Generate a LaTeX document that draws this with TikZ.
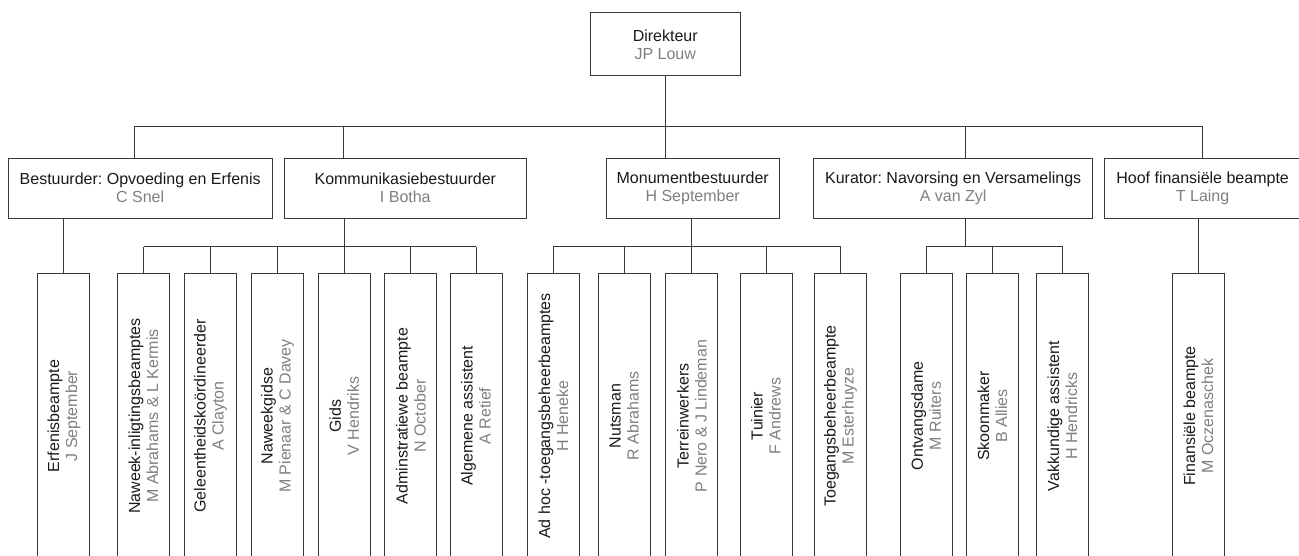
\documentclass[tikz,border=0pt]{standalone}
\usepackage{fontspec}
\setmainfont{Liberation Sans}
\frenchspacing
\definecolor{ln}{HTML}{383838}
\definecolor{nm}{HTML}{7F7F7F}
\definecolor{tt}{HTML}{1A1A1A}
\newcommand{\twoline}[2]{\textcolor{tt}{#1}\\\textcolor{nm}{#2}}
\begin{document}
\begin{tikzpicture}[x=1pt,y=-1pt,
  every node/.style={font=\fontsize{16}{18}\selectfont},
  box/.style={draw=ln, line width=1pt, fill=white, align=center, inner sep=0pt},
  topbox/.style={box, minimum height=60pt},
  lowbox/.style={box, rotate=90, minimum width=286pt, minimum height=52pt},
  conn/.style={draw=ln, line width=1pt},
]
\useasboundingbox (0,0) rectangle (1299,555);

% level 1
\node[box, minimum width=150.3pt, minimum height=63.3pt] (dir) at (665.2,44.3) {\twoline{Direkteur}{JP Louw}};

% level 2
\node[topbox, minimum width=263.7pt] (bes) at (140.2,188.2) {\twoline{Bestuurder: Opvoeding en Erfenis}{C Snel}};
\node[topbox, minimum width=242.5pt] (kom) at (405.3,188.2) {\twoline{Kommunikasiebestuurder}{I Botha}};
\node[topbox, minimum width=173.3pt] (mon) at (692.7,188.2) {\twoline{Monumentbestuurder}{H September}};
\node[topbox, minimum width=279pt] (kur) at (953.2,188.2) {\twoline{Kurator: Navorsing en Versamelings}{A van Zyl}};
\node[topbox, minimum width=196pt] (hoof) at (1202.6,188.2) {\twoline{Hoof finansi\"ele beampte}{T Laing}};

% level 3
\node[lowbox] (erf) at (63.9,416) {\twoline{Erfenisbeampte}{J September}};
\node[lowbox] (nwi) at (143.5,416) {\twoline{Naweek-inligtingsbeamptes}{M Abrahams \& L Kermis}};
\node[lowbox] (gel) at (210.4,416) {\twoline{Geleentheidsko\"ordineerder}{A Clayton}};
\node[lowbox] (nwg) at (277.4,416) {\twoline{Naweekgidse}{M Pienaar \& C Davey}};
\node[lowbox] (gid) at (344.2,416) {\twoline{Gids}{V Hendriks}};
\node[lowbox] (adm) at (410.8,416) {\twoline{Adminstratiewe beampte}{N October}};
\node[lowbox] (alg) at (476,416) {\twoline{Algemene assistent}{A Retief}};

\node[lowbox] (adh) at (553.3,416) {\twoline{Ad hoc -toegangsbeheerbeamptes}{H Heneke}};
\node[lowbox] (nut) at (624.3,416) {\twoline{Nutsman}{R Abrahams}};
\node[lowbox] (ter) at (691.8,416) {\twoline{Terreinwerkers}{P Nero \& J Lindeman}};
\node[lowbox] (tui) at (766,416) {\twoline{Tuinier}{F Andrews}};
\node[lowbox] (toe) at (840.5,416) {\twoline{Toegangsbeheerbeampte}{M Esterhuyze}};

\node[lowbox] (ont) at (926.2,416) {\twoline{Ontvangsdame}{M Ruiters}};
\node[lowbox] (sko) at (992.5,416) {\twoline{Skoonmaker}{B Allies}};
\node[lowbox] (vak) at (1062.5,416) {\twoline{Vakkundige assistent}{H Hendricks}};

\node[lowbox] (fin) at (1198.5,416) {\twoline{Finansi\"ele beampte}{M Oczenaschek}};

% connectors level 1 -> 2
\coordinate (busA) at (134.7,126);
\coordinate (busB) at (343,126);
\coordinate (busD) at (965.5,126);
\coordinate (busE) at (1202.2,126);
\draw[conn] (dir.south) -- (dir.south |- mon.north);
\draw[conn] (busA) -- (busE);
\draw[conn] (busA) -- (busA |- bes.north);
\draw[conn] (busB) -- (busB |- kom.north);
\draw[conn] (busD) -- (busD |- kur.north);
\draw[conn] (busE) -- (busE |- hoof.north);

% connectors level 2 -> 3
\coordinate (busy) at (0,246.7);
\draw[conn] (erf.east |- bes.south) -- (erf.east);

\draw[conn] (gid.east |- kom.south) -- (gid.east);
\draw[conn] (nwi.east |- busy) -- (alg.east |- busy);
\foreach \n in {nwi,gel,nwg,adm,alg} \draw[conn] (\n.east |- busy) -- (\n.east);

\draw[conn] (ter.east |- mon.south) -- (ter.east);
\draw[conn] (adh.east |- busy) -- (toe.east |- busy);
\foreach \n in {adh,nut,tui,toe} \draw[conn] (\n.east |- busy) -- (\n.east);

\draw[conn] (busD |- kur.south) -- (busD |- busy);
\draw[conn] (ont.east |- busy) -- (vak.east |- busy);
\foreach \n in {ont,sko,vak} \draw[conn] (\n.east |- busy) -- (\n.east);

\draw[conn] (fin.east |- hoof.south) -- (fin.east);
\end{tikzpicture}
\end{document}
